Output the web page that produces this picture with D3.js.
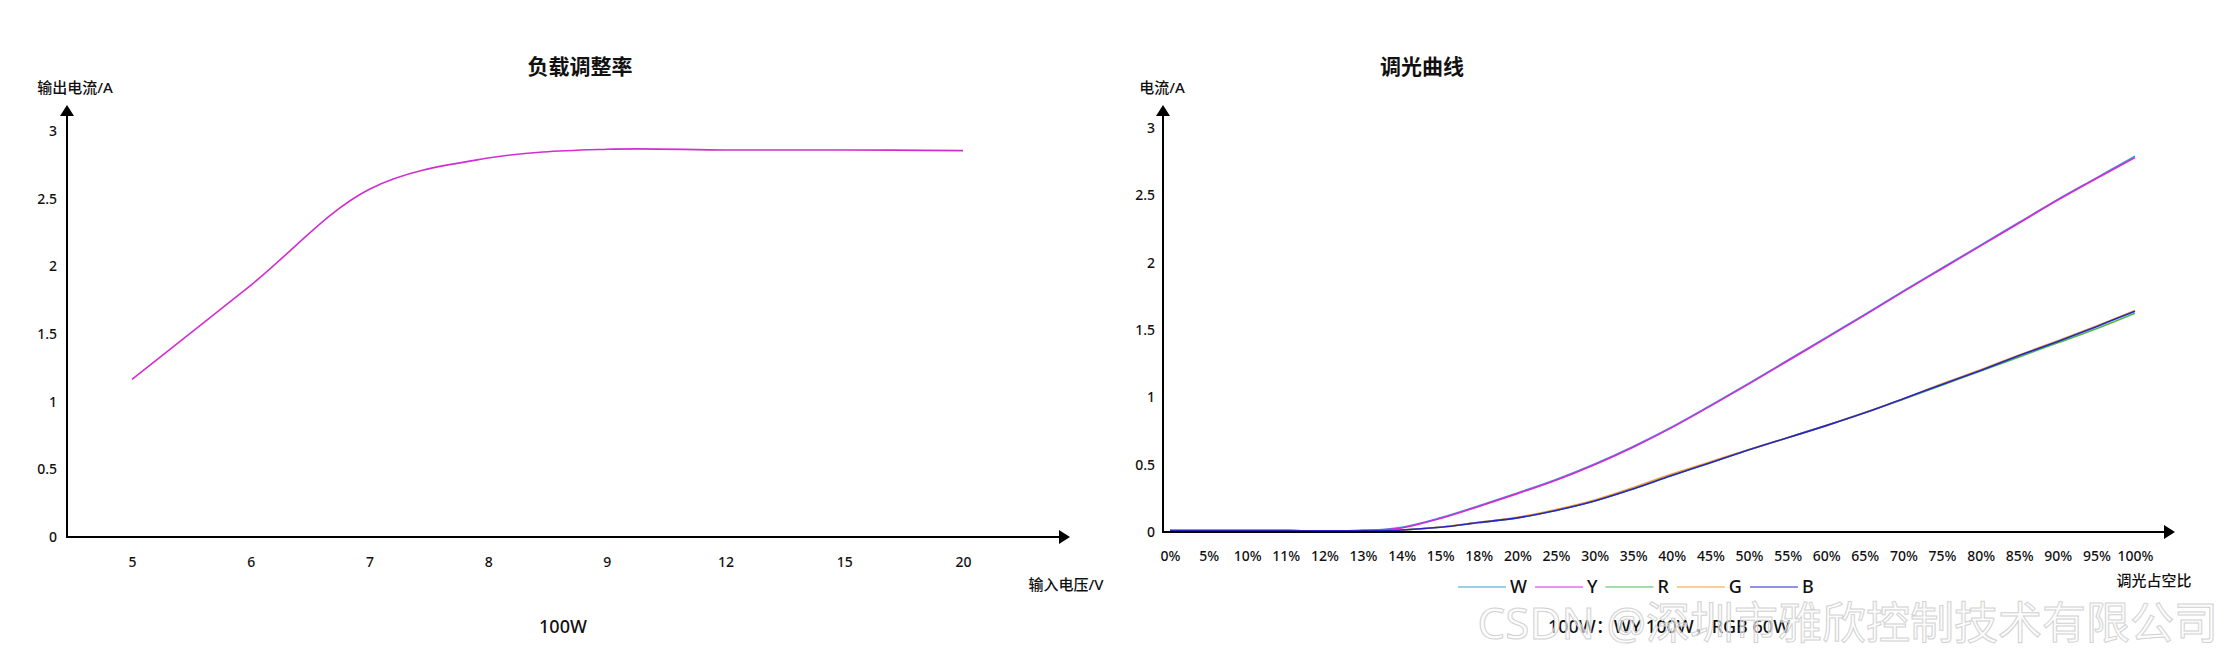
<!DOCTYPE html>
<html>
<head>
<meta charset="utf-8">
<script src="https://cdn.jsdelivr.net/npm/d3@7"></script>
<style>
  body { margin: 0; background: #fff; }
  svg text { font-family: "Noto Sans", "Noto Sans CJK SC", sans-serif; fill: #111; }
</style>
</head>
<body>
<div id="chart"></div>
<script>
// load regulation chart (left)
var voltages = ['5', '6', '7', '8', '9', '12', '15', '20'];
var loadCurrent = [1.165, 1.86, 2.57, 2.80, 2.865, 2.86, 2.86, 2.855];

// dimming curve chart (right)
var duties = ['0%', '5%', '10%', '11%', '12%', '13%', '14%', '15%', '18%', '20%', '25%', '30%', '35%',
              '40%', '45%', '50%', '55%', '60%', '65%', '70%', '75%', '80%', '85%', '90%', '95%', '100%'];
var seriesW = [0.01, 0.01, 0.01, 0.01, 0.008, 0.01, 0.035, 0.105, 0.195, 0.29, 0.39, 0.505, 0.635,
               0.78, 0.94, 1.105, 1.275, 1.445, 1.615, 1.79, 1.96, 2.13, 2.30, 2.47, 2.63, 2.79];
var seriesY = [0.01, 0.01, 0.01, 0.01, 0.008, 0.01, 0.03, 0.10, 0.19, 0.285, 0.385, 0.50, 0.63,
               0.775, 0.935, 1.10, 1.27, 1.44, 1.61, 1.785, 1.955, 2.125, 2.295, 2.465, 2.625, 2.78];
var seriesR = [0.01, 0.01, 0.01, 0.01, 0.008, 0.01, 0.015, 0.035, 0.07, 0.105, 0.16, 0.23, 0.32,
               0.42, 0.515, 0.61, 0.70, 0.79, 0.885, 0.985, 1.09, 1.195, 1.30, 1.405, 1.51, 1.625];
var seriesG = [0.01, 0.01, 0.01, 0.01, 0.008, 0.01, 0.015, 0.037, 0.073, 0.11, 0.167, 0.238, 0.33,
               0.43, 0.522, 0.613, 0.70, 0.79, 0.887, 0.99, 1.10, 1.205, 1.315, 1.42, 1.53, 1.645];
var seriesB = [0.01, 0.01, 0.01, 0.01, 0.008, 0.01, 0.015, 0.035, 0.07, 0.105, 0.16, 0.23, 0.32,
               0.42, 0.515, 0.61, 0.70, 0.79, 0.885, 0.99, 1.095, 1.20, 1.31, 1.415, 1.525, 1.64];
var seriesNames = ['W', 'Y', 'R', 'G', 'B'];
var seriesColors = ['#3d9bd4', '#d629d6', '#4cb84c', '#f39c32', '#2626c8'];

var yTicks = [0, 0.5, 1, 1.5, 2, 2.5, 3];

var svg = d3.select('#chart').append('svg')
    .attr('width', 2229)
    .attr('height', 660);

function arrowUp(x, y) {
    svg.append('path')
        .attr('d', 'M' + (x - 7) + ',' + (y + 11) + 'L' + x + ',' + y + 'L' + (x + 7) + ',' + (y + 11) + 'Z')
        .attr('fill', '#000');
}
function arrowRight(x, y) {
    svg.append('path')
        .attr('d', 'M' + (x - 11) + ',' + (y - 7) + 'L' + x + ',' + y + 'L' + (x - 11) + ',' + (y + 7) + 'Z')
        .attr('fill', '#000');
}
function label(x, y, txt, size, weight, anchor) {
    return svg.append('text')
        .attr('x', x)
        .attr('y', y)
        .attr('dy', '0.35em')
        .attr('text-anchor', anchor || 'middle')
        .style('font-size', size + 'px')
        .style('font-weight', weight || 500)
        .text(txt);
}

// ---------- left chart ----------
var xL = d3.scalePoint().domain(voltages).range([132, 963]);
var yL = d3.scaleLinear().domain([0, 3]).range([537, 131]);

svg.append('g')
    .attr('transform', 'translate(67,0)')
    .call(d3.axisLeft(yL).tickValues(yTicks).tickSize(0).tickPadding(10).tickFormat(function (d) { return String(d); }))
    .call(function (g) { g.select('.domain').remove(); })
    .selectAll('text').style('font-size', '14px').style('font-weight', 500);

svg.append('g')
    .attr('transform', 'translate(0,537)')
    .call(d3.axisBottom(xL).tickSize(0).tickPadding(20))
    .call(function (g) { g.select('.domain').remove(); })
    .selectAll('text').style('font-size', '14px').style('font-weight', 500);

svg.append('line').attr('x1', 67).attr('y1', 537).attr('x2', 67).attr('y2', 112)
    .attr('stroke', '#000').attr('stroke-width', 2);
svg.append('line').attr('x1', 66).attr('y1', 537).attr('x2', 1064).attr('y2', 537)
    .attr('stroke', '#000').attr('stroke-width', 2);
arrowUp(67, 105);
arrowRight(1070, 537);

var lineL = d3.line()
    .x(function (d, i) { return xL(voltages[i]); })
    .y(function (d) { return yL(d); })
    .curve(d3.curveCatmullRom.alpha(0.5));

svg.append('path')
    .datum(loadCurrent)
    .attr('d', lineL)
    .attr('fill', 'none')
    .attr('stroke', '#d02ed0')
    .attr('stroke-width', 1.6);

label(580, 67, '负载调整率', 21, 'bold');
label(75, 88, '输出电流/A', 15);
label(1066, 585, '输入电压/V', 15);
label(563, 627, '100W', 18);

// ---------- right chart ----------
var xR = d3.scalePoint().domain(duties).range([1170, 2135]);
var yR = d3.scaleLinear().domain([0, 3]).range([532, 128]);

svg.append('g')
    .attr('transform', 'translate(1163,0)')
    .call(d3.axisLeft(yR).tickValues(yTicks).tickSize(0).tickPadding(8).tickFormat(function (d) { return String(d); }))
    .call(function (g) { g.select('.domain').remove(); })
    .selectAll('text').style('font-size', '14px').style('font-weight', 500);

svg.append('g')
    .attr('transform', 'translate(0,532)')
    .call(d3.axisBottom(xR).tickSize(0).tickPadding(19))
    .call(function (g) { g.select('.domain').remove(); })
    .selectAll('text').style('font-size', '14px').style('font-weight', 500);

var lineR = d3.line()
    .x(function (d, i) { return xR(duties[i]); })
    .y(function (d) { return yR(d); })
    .curve(d3.curveCatmullRom.alpha(0.5));

var allSeries = [seriesW, seriesY, seriesR, seriesG, seriesB];
svg.selectAll('.dim-line')
    .data(allSeries)
    .enter().append('path')
    .attr('class', 'dim-line')
    .attr('d', lineR)
    .attr('fill', 'none')
    .attr('stroke', function (d, i) { return seriesColors[i]; })
    .attr('stroke-width', 1.6);

svg.append('line').attr('x1', 1163).attr('y1', 533).attr('x2', 1163).attr('y2', 112)
    .attr('stroke', '#000').attr('stroke-width', 2);
svg.append('line').attr('x1', 1162).attr('y1', 532).attr('x2', 2166).attr('y2', 532)
    .attr('stroke', '#000').attr('stroke-width', 2);
arrowUp(1163, 105);
arrowRight(2175, 532);

label(1422, 67, '调光曲线', 21, 'bold');
label(1162, 88, '电流/A', 15);
label(2154, 581, '调光占空比', 15);

// legend
var lx = 1458;
seriesNames.forEach(function (name, i) {
    svg.append('line')
        .attr('x1', lx).attr('x2', lx + 48)
        .attr('y1', 587).attr('y2', 587)
        .attr('stroke', seriesColors[i])
        .attr('stroke-width', 1);
    var t = label(lx + 52, 587, name, 18, 500, 'start');
    lx += 52 + t.node().getComputedTextLength() + 8;
});

label(1669, 627, '100W：WY 100W，RGB 60W', 18);

// watermark
svg.append('text')
    .attr('x', 2218)
    .attr('y', 624)
    .attr('dy', '0.35em')
    .attr('text-anchor', 'end')
    .style('font-size', '44px')
    .style('fill', '#fafafa')
    .style('fill-opacity', 0.6)
    .style('stroke', '#d2d2d2')
    .style('stroke-width', 1)
    .text('CSDN @深圳市雅欣控制技术有限公司');
</script>
</body>
</html>
